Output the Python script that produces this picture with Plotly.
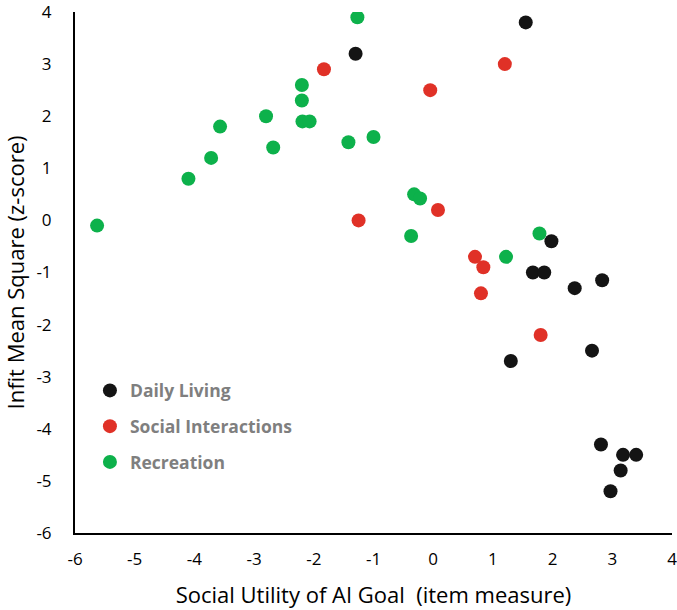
import plotly.graph_objects as go

# Daily Living
dl_x = [-1.3, 1.55, 1.98, 1.67, 1.86, 2.37, 2.83, 1.3, 2.66, 2.81, 3.18, 3.4, 3.14, 2.97]
dl_y = [3.2, 3.8, -0.4, -1.0, -1.0, -1.3, -1.15, -2.7, -2.5, -4.3, -4.5, -4.5, -4.8, -5.2]

# Social Interactions
si_x = [-1.83, 1.2, -0.05, -1.25, 0.08, 0.7, 0.84, 0.8, 1.8]
si_y = [2.9, 3.0, 2.5, 0.0, 0.2, -0.7, -0.9, -1.4, -2.2]

# Recreation
rc_x = [-5.63, -4.1, -3.72, -3.57, -2.8, -2.68, -2.2, -2.2, -2.19, -2.07, -1.27, -1.42, -1.0,
        -0.32, -0.22, -0.37, 1.22, 1.78]
rc_y = [-0.1, 0.8, 1.2, 1.8, 2.0, 1.4, 2.6, 2.3, 1.9, 1.9, 3.9, 1.5, 1.6,
        0.5, 0.42, -0.3, -0.7, -0.25]

x_ticks = [-6, -5, -4, -3, -2, -1, 0, 1, 2, 3, 4]
y_ticks = [-6, -5, -4, -3, -2, -1, 0, 1, 2, 3, 4]

FONT = "Open Sans"

fig = go.Figure()
series = [
    ("Daily Living", dl_x, dl_y, "#141414"),
    ("Social Interactions", si_x, si_y, "#e03127"),
    ("Recreation", rc_x, rc_y, "#0db14b"),
]
for i, (name, xs, ys, col) in enumerate(series):
    fig.add_trace(go.Scatter(
        x=xs, y=ys, mode="markers", name=name, legendgroup=f"g{i}",
        marker=dict(size=14, color=col, line=dict(width=0)),
    ))

fig.update_layout(
    width=677, height=610,
    margin=dict(l=75, r=5, t=12, b=77),
    plot_bgcolor="white", paper_bgcolor="white",
    font=dict(family=FONT, size=16, color="black"),
    showlegend=True,
    legend=dict(
        x=0.025, y=0.308, xanchor="left", yanchor="top",
        font=dict(family=FONT, size=17.5, color="#7f7f7f", weight="bold"),
        tracegroupgap=10, bgcolor="rgba(0,0,0,0)",
        itemwidth=30,
    ),
    xaxis=dict(
        range=[-6, 4], tickvals=x_ticks, ticktext=[str(v) for v in x_ticks],
        showgrid=False, zeroline=False, showline=True, linecolor="black", linewidth=2,
        ticks="", ticklen=0, ticklabelstandoff=10, ticklabeloverflow="allow",
        automargin=False,
        tickfont=dict(size=17, family=FONT),
        title=dict(text="Social Utility of AI Goal  (item measure)", font=dict(size=22, family=FONT), standoff=18),
    ),
    yaxis=dict(
        range=[-6, 4], tickvals=y_ticks, ticktext=[str(v) for v in y_ticks],
        showgrid=False, zeroline=False, showline=True, linecolor="black", linewidth=2,
        ticks="", ticklen=0, ticklabelstandoff=18, ticklabeloverflow="allow",
        automargin=False,
        tickfont=dict(size=17, family=FONT),
        title=dict(text="Infit Mean Square (z-score)", font=dict(size=22, family=FONT), standoff=10),
    ),
)

fig.write_html("out.html")
